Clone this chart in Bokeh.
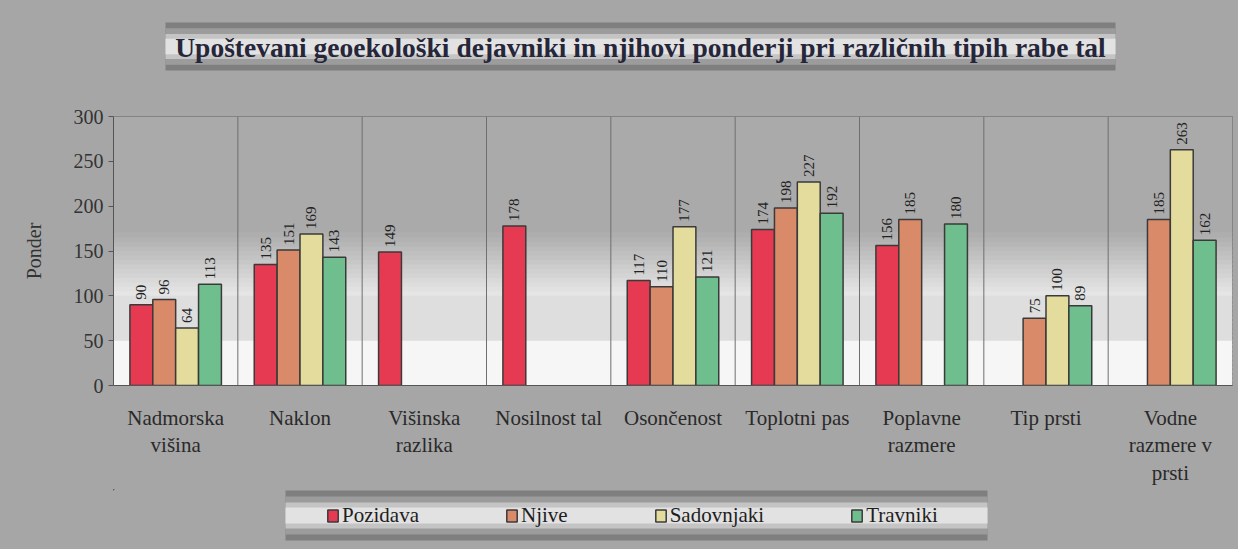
import math
from bokeh.plotting import figure
from bokeh.layouts import column
from bokeh.models import (FactorRange, Range1d, ColumnDataSource, Legend, LegendItem,
                          Span, BoxAnnotation, FixedTicker)
from bokeh.transform import dodge
from bokeh.core.properties import value
from bokeh.embed import file_html
from bokeh.resources import INLINE

categories = ["Nadmorska\nvišina", "Naklon", "Višinska\nrazlika", "Nosilnost tal",
              "Osončenost", "Toplotni pas", "Poplavne\nrazmere", "Tip prsti",
              "Vodne\nrazmere v\nprsti"]
series_names = ["Pozidava", "Njive", "Sadovnjaki", "Travniki"]
pozidava = [90, 135, 149, 178, 117, 174, 156, None, None]
njive = [96, 151, None, None, 110, 198, 185, 75, 185]
sadovnjaki = [64, 169, None, None, 177, 227, None, 100, 263]
travniki = [113, 143, None, None, 121, 192, 180, 89, 162]
y_ticks = [0, 50, 100, 150, 200, 250, 300]
title_text = "Upoštevani geoekološki dejavniki in njihovi ponderji pri različnih tipih rabe tal"

series_values = [pozidava, njive, sadovnjaki, travniki]
colors = ["#e53a52", "#d98a68", "#e4dc9c", "#6fbe8e"]
offsets = [-0.276, -0.092, 0.092, 0.276]
SERIF = "Liberation Serif"
BG = "#a6a6a6"
W = 1238
LEFT = 113
FRAME_W, FRAME_H = 1119, 269
RIGHT = W - LEFT - FRAME_W
metal = [(0.0, "#7f7f7f"), (0.12, "#9c9c9c"), (0.24, "#c4c4c4"), (0.34, "#e2e2e2")]


def deco_figure(h):
    # data units equal canvas pixels (x from the canvas's left edge, y downwards)
    f = figure(width=W, height=h, x_range=Range1d(LEFT, LEFT + FRAME_W),
               y_range=Range1d(h, 0), output_backend="svg", toolbar_location=None,
               x_axis_location=None, y_axis_location=None,
               min_border_left=LEFT, min_border_right=RIGHT, min_border_top=0,
               min_border_bottom=0, styles={"background-color": BG})
    f.grid.visible = False
    f.outline_line_color = None
    f.background_fill_color = BG
    f.border_fill_color = BG
    return f


def metal_band(f, l, r, t, b):
    h = b - t
    for frac, col in metal:
        inset = h * frac
        f.quad(left=l, right=r, top=t + inset, bottom=b - inset,
               fill_color=col, line_color=None)


# ---------- title strip ----------
TH = 90
pt = deco_figure(TH)
metal_band(pt, 165, 1115, 22, 70)
pt.text(x=[640], y=[47], text=[title_text], text_align="center",
        text_baseline="middle", text_font=value(SERIF), text_font_size="27.5px",
        text_font_style="bold", text_color="#26263a")

# ---------- main chart ----------
p = figure(x_range=FactorRange(factors=categories, range_padding=0),
           y_range=Range1d(0, 300), frame_width=FRAME_W, frame_height=FRAME_H,
           output_backend="svg", toolbar_location=None,
           min_border_left=LEFT, min_border_right=RIGHT,
           min_border_top=116 - TH, min_border_bottom=104,
           styles={"background-color": BG})
p.border_fill_color = BG
p.background_fill_color = "#f4f4f4"
p.outline_line_color = "#777777"


def band_color(y):
    if y < 50:
        g = 246
    elif y < 100:
        g = 222
    elif y < 170:
        t = (y - 100) / 70.0
        g = int(232 - t * (232 - 172))
    else:
        g = 170
    return "#%02x%02x%02x" % (g, g, g)


p.add_layout(BoxAnnotation(bottom=170, top=300, fill_color=band_color(200),
                           fill_alpha=1.0, line_color=None, level="underlay"))
for yb in range(0, 170, 5):
    p.add_layout(BoxAnnotation(bottom=yb, top=yb + 6, fill_color=band_color(yb + 2.5),
                               fill_alpha=1.0, line_color=None, level="underlay"))

p.xgrid.grid_line_color = None
p.ygrid.grid_line_color = "#6f6f6f"
p.ygrid.grid_line_width = 1
p.ygrid.level = "underlay"
for i in range(1, len(categories)):
    p.add_layout(Span(location=i, dimension="height", line_color="#6f6f6f",
                      line_width=1, level="underlay"))

for name, vals, col, off in zip(series_names, series_values, colors, offsets):
    cats = [c for c, v in zip(categories, vals) if v is not None]
    vv = [v for v in vals if v is not None]
    src = ColumnDataSource(dict(cat=cats, val=vv, lab=[str(v) for v in vv]))
    p.vbar(x=dodge("cat", off, range=p.x_range), top="val", width=0.184,
           source=src, fill_color=col, line_color="#3a3a3a", line_width=1.5)
    p.text(x=dodge("cat", off, range=p.x_range), y="val", text="lab", source=src,
           angle=math.pi / 2, text_align="left", text_baseline="middle",
           x_offset=0, y_offset=-5, text_font=value(SERIF), text_font_size="15px",
           text_color="#222222")

p.yaxis.ticker = FixedTicker(ticks=y_ticks)
p.yaxis.axis_label = "Ponder"
p.yaxis.axis_label_text_font = SERIF
p.yaxis.axis_label_text_font_style = "normal"
p.yaxis.axis_label_text_font_size = "20px"
p.yaxis.axis_label_text_color = "#333333"
p.yaxis.axis_label_standoff = 26
p.yaxis.major_label_text_font = SERIF
p.yaxis.major_label_text_font_size = "20px"
p.yaxis.major_label_text_color = "#333333"
p.yaxis.axis_line_color = "#555555"
p.yaxis.major_tick_line_color = "#555555"
p.yaxis.major_tick_in = 0
p.yaxis.major_tick_out = 5
p.yaxis.minor_tick_line_color = None

p.xaxis.major_label_text_font = SERIF
p.xaxis.major_label_text_font_size = "21px"
p.xaxis.major_label_text_color = "#2a2a2a"
p.xaxis.major_label_text_line_height = 1.15
p.xaxis.major_label_standoff = 14
p.xaxis.axis_line_color = "#555555"
p.xaxis.major_tick_line_color = None

# ---------- legend strip ----------
LH = 60
pl = deco_figure(LH)
metal_band(pl, 285, 987, 1, 51)
items = []
for name, col in zip(series_names, colors):
    # off-screen proxy bar: only its style is used by the legend entry
    r = pl.vbar(x=[-1000], top=[-1000], bottom=[-1001], width=1, fill_color=col,
                line_color="#3a3a3a", line_width=1.5)
    items.append(LegendItem(label=name, renderers=[r]))
legend = Legend(items=items, orientation="horizontal", location=(213, 21),
                label_text_font=SERIF, label_text_font_size="21px",
                label_text_color="#1e1e1e", glyph_width=13, glyph_height=15,
                label_standoff=3, spacing=86, padding=12, margin=0,
                background_fill_alpha=0.0, border_line_color=None)
pl.add_layout(legend, "center")

layout = column(pt, p, pl, spacing=0, styles={"background-color": BG})
open("out.html", "w").write(file_html(layout, INLINE))
